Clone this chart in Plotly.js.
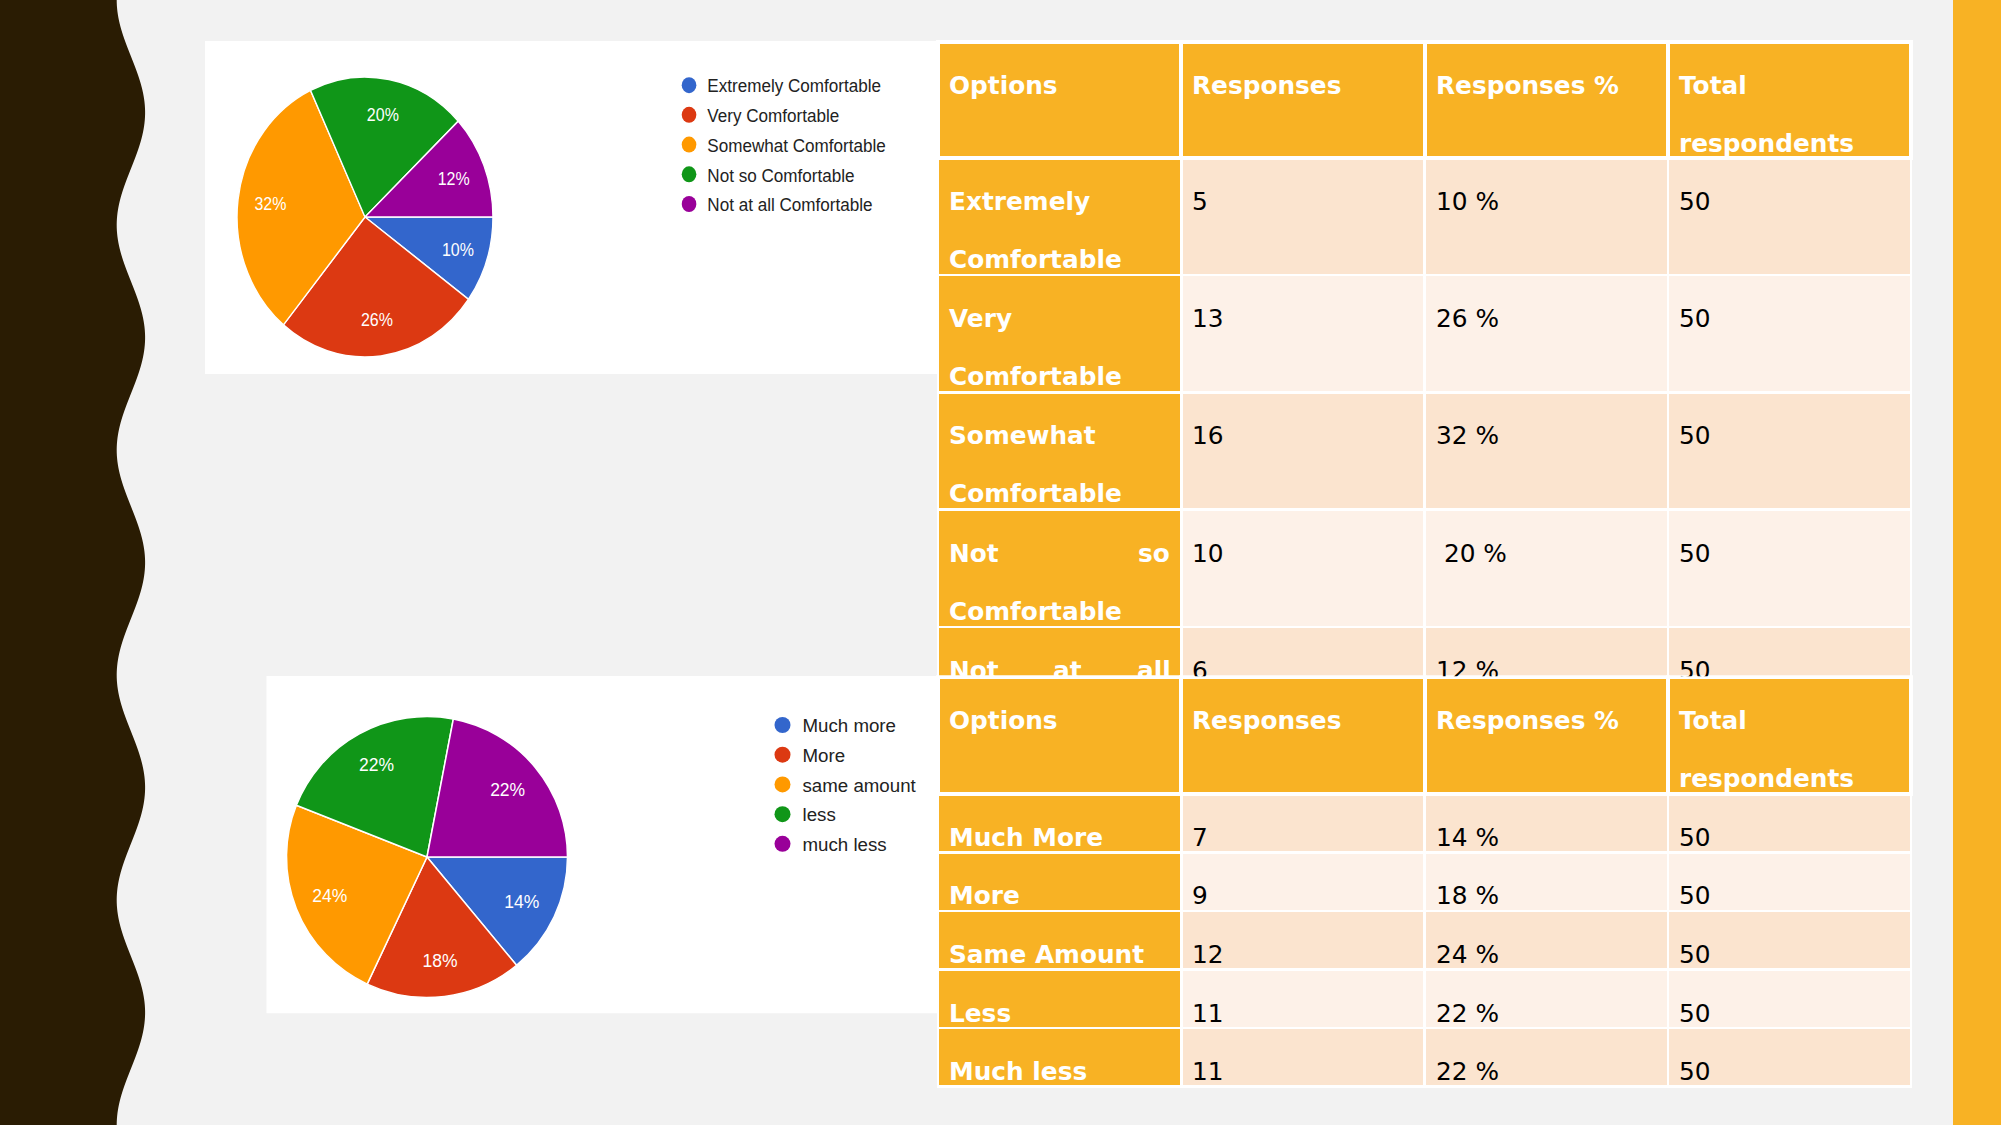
<!DOCTYPE html>
<html>
<head>
<meta charset="utf-8">
<script src="https://cdn.plot.ly/plotly-3.0.1.min.js"></script>
<style>
  html, body { margin: 0; padding: 0; background: #F2F2F2; overflow: hidden; }
  #main { position: absolute; left: 0; top: 0; width: 2001px; height: 1125px; }
  #pie1 { position: absolute; left: 205px; top: 41px; width: 802px; height: 333px;
          transform: scaleX(0.91397); transform-origin: 0 0; }
</style>
</head>
<body>
<div id="main"></div>
<div id="pie1"></div>
<script>
// ---------------- DATA ----------------
const tableHeaders = ["Options", "Responses", "Responses %", "Total respondents"];

const comfortOptions = ["Extremely Comfortable", "Very Comfortable", "Somewhat Comfortable", "Not so Comfortable", "Not at all Comfortable"];
const comfortResponses = [5, 13, 16, 10, 6];
const comfortPctText = ["10 %", "26 %", "32 %", "\u00a020 %", "12 %"];
const comfortTotal = [50, 50, 50, 50, 50];

const amountLegend = ["Much more", "More", "same amount", "less", "much less"];
const amountOptions = ["Much More", "More", "Same Amount", "Less", "Much less"];
const amountResponses = [7, 9, 12, 11, 11];
const amountPctText = ["14 %", "18 %", "24 %", "22 %", "22 %"];
const amountTotal = [50, 50, 50, 50, 50];

const sliceColors = ["#3366CC", "#DC3912", "#FF9900", "#109618", "#990099"];

// ---------------- STYLE / LAYOUT CONSTANTS ----------------
const W = 2001, H = 1125;
const ORANGE = "#F8B224", PEACH = "#FBE4CF", CREAM = "#FDF1E8", DARK = "#2A1C03";
const FS = 24.8, PAD = 11, FIRST = 43.5, LINE = 58, HALF = 14.55;
const T1 = { left: 938, right: 1911, top: 41.7, headerH: 116, rowH: 117.3, bottom: 770, clip: 676 };
const T2 = { left: 938, right: 1911, top: 677.3, headerH: 116.4, rowH: 58.6, bottom: 1110 };
const LEG_FONT = { family: "Liberation Sans, Arial, sans-serif", size: 18.7, color: "#222222" };
const PCT_FONT = { family: "Liberation Sans, Arial, sans-serif", size: 17.5, color: "#FFFFFF" };
const LABEL_RING = 0.49; // labels sit in an outer ring, like the source chart (about 0.745 of the radius)

// ---------------- HELPERS ----------------
const ctx = document.createElement("canvas").getContext("2d");
function measure(s, bold) {
  ctx.font = (bold ? "bold " : "") + FS + "px 'DejaVu Sans'";
  return ctx.measureText(s).width;
}
function wrapWords(text, bold, maxW) {
  const words = text.split(" ");
  const lines = [];
  let cur = [];
  words.forEach(w => {
    const trial = cur.concat([w]);
    if (cur.length && measure(trial.join(" "), bold) > maxW) { lines.push(cur); cur = [w]; }
    else cur = trial;
  });
  if (cur.length) lines.push(cur);
  return lines;
}
function pushText(anns, s, x, cy, bold, color, clipY) {
  const a = {
    xref: "x", yref: "y", x: x, y: cy, xanchor: "left", yanchor: "middle",
    text: s, showarrow: false, borderpad: 0, borderwidth: 0,
    font: { family: "DejaVu Sans", size: FS, color: color, weight: bold ? 700 : 400 }
  };
  if (clipY !== undefined && cy + HALF > clipY) {
    if (cy - HALF >= clipY) return;
    a.yanchor = "top"; a.y = cy - HALF; a.height = clipY - (cy - HALF); a.valign = "top";
  }
  anns.push(a);
}
function placeText(anns, text, cellLeft, colW, cellTop, bold, color, clipY) {
  const inner = colW - 2 * PAD;
  const lines = wrapWords(text, bold, inner);
  lines.forEach((words, li) => {
    const cy = cellTop + FIRST + li * LINE;
    const isLast = li === lines.length - 1;
    if (!isLast && words.length > 1) {
      const ws = words.map(w => measure(w, bold));
      const gap = (inner - ws.reduce((a, b) => a + b, 0)) / (words.length - 1);
      let x = cellLeft + PAD;
      words.forEach((w, i) => { pushText(anns, w, x, cy, bold, color, clipY); x += ws[i] + gap; });
    } else {
      pushText(anns, words.join(" "), cellLeft + PAD, cy, bold, color, clipY);
    }
  });
}
function tableTexts(anns, g, options, responses, pcts, totals, clipY) {
  const colW = (g.right - g.left) / tableHeaders.length;
  tableHeaders.forEach((h, c) => placeText(anns, h, g.left + c * colW, colW, g.top, true, "#FFFFFF", clipY));
  options.forEach((opt, r) => {
    const top = g.top + g.headerH + r * g.rowH;
    const row = [opt, String(responses[r]), pcts[r], String(totals[r])];
    row.forEach((val, c) => placeText(anns, val, g.left + c * colW, colW, top, c === 0,
      c === 0 ? "#FFFFFF" : "#000000", clipY));
  });
}
function tableTrace(nRows, g) {
  const fills = tableHeaders.map((_, c) =>
    Array.from({ length: nRows }, (_, r) => c === 0 ? ORANGE : (r % 2 === 0 ? PEACH : CREAM)));
  return {
    type: "table",
    domain: { x: [g.left / W, g.right / W], y: [1 - g.bottom / H, 1 - g.top / H] },
    columnwidth: tableHeaders.map(() => 1),
    header: { values: tableHeaders.map(() => ""), height: g.headerH,
              fill: { color: ORANGE }, line: { color: "#FFFFFF", width: 4 } },
    cells: { values: tableHeaders.map(() => Array(nRows).fill("")), height: g.rowH,
             fill: { color: fills }, line: { color: "#FFFFFF", width: 2.5 } }
  };
}
// slices (no text) + a transparent twin carrying the percentage labels in an outer ring
function pieTraces(labels, values, domain) {
  const common = { type: "pie", labels: labels, values: values, sort: false, direction: "clockwise",
                   rotation: 90, showlegend: false, hoverinfo: "skip", domain: domain };
  return [
    Object.assign({}, common, {
      marker: { colors: sliceColors, line: { color: "#FFFFFF", width: 1.5 } },
      textinfo: "none"
    }),
    Object.assign({}, common, {
      hole: LABEL_RING,
      marker: { colors: labels.map(() => "rgba(0,0,0,0)"), line: { width: 0 } },
      textinfo: "percent", textposition: "inside", insidetextorientation: "horizontal",
      textfont: PCT_FONT
    })
  ];
}
function legendTraces(labels) {
  return labels.map((l, i) => ({
    type: "scatter", mode: "markers", x: [null], y: [null], name: l, legendgroup: "g" + i,
    marker: { color: sliceColors[i], size: 16, symbol: "circle" }, showlegend: true, hoverinfo: "skip"
  }));
}

// ---------------- MAIN FIGURE ----------------
const wavePts = [];
for (let y = 0; y <= H; y += 3) {
  wavePts.push((130.9 - 14.2 * Math.cos(2 * Math.PI * y / 225)).toFixed(2) + "," + y);
}
const wavePath = "M0,0 L" + wavePts.join(" L") + " L0," + H + " Z";

const anns = [];
tableTexts(anns, T1, comfortOptions, comfortResponses, comfortPctText, comfortTotal, T1.clip);
tableTexts(anns, T2, amountOptions, amountResponses, amountPctText, amountTotal, undefined);

const mainData = pieTraces(amountLegend, amountResponses,
    { x: [286.5 / W, 567.5 / W], y: [1 - 997.5 / H, 1 - 716.5 / H] })
  .concat([tableTrace(comfortOptions.length, T1), tableTrace(amountOptions.length, T2)])
  .concat(legendTraces(amountLegend));

const mainLayout = {
  width: W, height: H, margin: { l: 0, r: 0, t: 0, b: 0, pad: 0 },
  paper_bgcolor: "#F2F2F2", plot_bgcolor: "rgba(0,0,0,0)",
  xaxis: { range: [0, W], visible: false, fixedrange: true },
  yaxis: { range: [H, 0], visible: false, fixedrange: true },
  showlegend: true,
  legend: { x: 762.5 / W, xanchor: "left", y: 1 - 706.35 / H, yanchor: "top", font: LEG_FONT,
            bgcolor: "rgba(0,0,0,0)", borderwidth: 0, traceorder: "grouped", tracegroupgap: 2.4 },
  shapes: [
    { type: "path", xref: "x", yref: "y", path: wavePath, fillcolor: DARK, line: { width: 0 }, layer: "below" },
    { type: "rect", xref: "x", yref: "y", x0: 1953, x1: W, y0: 0, y1: H, fillcolor: ORANGE, line: { width: 0 }, layer: "below" },
    { type: "rect", xref: "x", yref: "y", x0: 266.5, x1: 938, y0: 676, y1: 1013.3, fillcolor: "#FFFFFF", line: { width: 0 }, layer: "below" }
  ],
  annotations: anns
};
Plotly.newPlot("main", mainData, mainLayout, { staticPlot: true, displayModeBar: false });

// ---------------- FIRST PIE PANEL (horizontally squeezed like the source image) ----------------
const P1W = 802, P1H = 333;
const pie1Data = pieTraces(comfortOptions, comfortResponses,
    { x: [35.06 / P1W, 315.06 / P1W], y: [1 - 316 / P1H, 1 - 36 / P1H] })
  .concat(legendTraces(comfortOptions));
const pie1Layout = {
  width: P1W, height: P1H, margin: { l: 0, r: 0, t: 0, b: 0, pad: 0 },
  paper_bgcolor: "#FFFFFF", plot_bgcolor: "rgba(0,0,0,0)",
  xaxis: { range: [0, 1], visible: false, fixedrange: true },
  yaxis: { range: [0, 1], visible: false, fixedrange: true },
  showlegend: true,
  legend: { x: 509.6 / P1W, xanchor: "left", y: 1 - 25.5 / P1H, yanchor: "top", font: LEG_FONT,
            bgcolor: "rgba(0,0,0,0)", borderwidth: 0, traceorder: "grouped", tracegroupgap: 2.4 }
};
Plotly.newPlot("pie1", pie1Data, pie1Layout, { staticPlot: true, displayModeBar: false });
</script>
</body>
</html>
